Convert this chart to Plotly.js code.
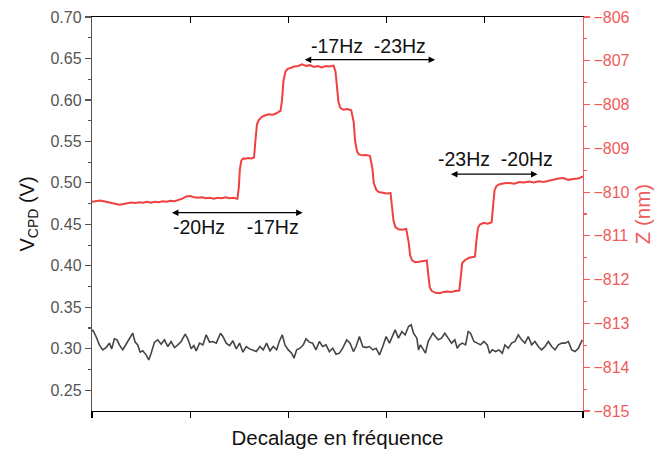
<!DOCTYPE html>
<html>
<head>
<meta charset="utf-8">
<script src="https://cdn.plot.ly/plotly-3.0.1.min.js"></script>
<style>html,body{margin:0;padding:0;background:#fff;}#chart{width:654px;height:451px;}</style>
</head>
<body>
<div id="chart"></div>
<script>
// V_CPD (left axis) trace
const vcpdX = [0,0.7,4.1,7.5,10.9,14.3,17.7,20.1,22.8,25.5,27.9,31.3,34.7,38.1,41.5,43.9,46.6,49.0,51.7,55.1,57.8,60.2,63.6,67.0,70.4,73.8,77.2,80.6,84.0,87.4,90.8,94.9,97.6,101.0,103.7,106.1,109.5,112.9,116.3,119.7,123.1,126.5,130.9,133.3,136.7,140.1,143.5,146.9,150.3,153.7,157.1,160.5,163.9,167.3,
  171.0,174.4,177.8,181.2,184.6,188.0,190.7,193.8,196.5,199.9,203.3,205.7,208.4,211.8,215.2,217.9,221.3,224.7,228.1,231.5,234.9,238.3,241.7,245.1,248.5,251.9,255.3,259.4,262.8,266.2,268.9,272.3,275.7,279.1,282.5,285.9,289.3,292.7,296.1,299.5,302.9,306.3,308.7,312.1,315.5,318.9,322.3,325.0,327.4,330.8,332.5,
  334.5,336.9,339.6,342.3,344.7,347.1,349.8,352.5,355.9,359.3,362.7,366.1,369.5,371.9,374.3,377.0,380.4,383.1,385.5,388.9,392.3,395.7,399.1,402.5,404.9,407.6,411.0,414.4,417.8,420.5,423.9,427.3,430.7,434.1,437.5,440.9,444.3,447.7,451.1,454.5,457.9,461.3,464.7,468.1,471.5,474.9,478.3,481.7,485.1,488.5,491.9,495.3,497.7,499.4];
const vcpdY = [0.3208,0.3228,0.3148,0.3047,0.2987,0.3015,0.3068,0.2999,0.3120,0.3108,0.3047,0.2987,0.3055,0.3128,0.3188,0.3080,0.3047,0.2959,0.2975,0.2927,0.2866,0.2947,0.3080,0.3108,0.3055,0.3108,0.3027,0.3088,0.3015,0.3047,0.3088,0.3176,0.3120,0.2999,0.3039,0.2975,0.3068,0.3047,0.3168,0.3080,0.3088,0.3068,0.3188,0.3148,0.3068,0.3039,0.3096,0.2999,0.3068,0.2959,0.3027,0.2999,0.2987,0.2967,
  0.3027,0.2987,0.3068,0.2975,0.3027,0.2987,0.3088,0.3168,0.3047,0.2987,0.2947,0.2887,0.2987,0.3007,0.3047,0.3120,0.3080,0.3068,0.2987,0.3088,0.3027,0.3047,0.2967,0.3007,0.2935,0.2947,0.3007,0.3108,0.3068,0.2967,0.3027,0.3148,0.3027,0.3015,0.3027,0.2987,0.3007,0.2927,0.3027,0.3148,0.3068,0.3168,0.3228,0.3128,0.3208,0.3168,0.3268,0.3289,0.3188,0.3128,0.2987,
  0.3047,0.3007,0.2947,0.3088,0.3148,0.3188,0.3148,0.3108,0.3128,0.3188,0.3128,0.3068,0.3108,0.3007,0.3047,0.3068,0.3047,0.3208,0.3188,0.3088,0.3068,0.3047,0.3088,0.3047,0.2947,0.2987,0.2967,0.2987,0.2947,0.3047,0.3007,0.3068,0.3088,0.3168,0.3108,0.3068,0.3148,0.3047,0.3088,0.3027,0.2987,0.3027,0.3088,0.3027,0.2987,0.3047,0.3068,0.3068,0.3088,0.2987,0.2967,0.3007,0.3068,0.3108];

// Z (right axis) trace
const zX = [0,4,8,12,16,20,24,28,32,36,40,44,48,52,56,60,64,68,72,76,80,84,88,92,
  96,100,104,108,112,116,120,124,128,132,136,140,144,148,
  149.5,150.5,152,154,156,159,162,165,
  166.5,168,170,173,176,180,184,188,192,
  193.5,195,197,199,202,206,210,214,218,222,226,230,234,238,242,246,
  248,249.5,251,253,256,260,264,
  266.5,268,270,272,275,279,283,
  285.5,287,289.5,292,296,300,304,
  305.5,307,309,312,316,320,
  322.5,324,326,329,333,337,341,
  342.5,344,346,350,354,358,362,366,370,374,
  375.5,377,380,384,388,390,
  391.5,393,395,399,403,407,
  408.5,410,412,415,420,425,430,435,440,445,450,455,460,465,470,475,480,485,490,495,500];
const zY = [-810.22,-810.20,-810.19,-810.21,-810.23,-810.25,-810.27,-810.29,-810.27,-810.26,-810.24,-810.25,-810.23,-810.24,-810.22,-810.24,-810.22,-810.23,-810.21,-810.22,-810.20,-810.21,-810.18,-810.15,
  -810.10,-810.09,-810.12,-810.13,-810.12,-810.14,-810.13,-810.15,-810.13,-810.14,-810.12,-810.14,-810.13,-810.15,
  -809.90,-809.50,-809.28,-809.23,-809.24,-809.22,-809.23,-809.21,
  -808.80,-808.45,-808.35,-808.28,-808.25,-808.22,-808.23,-808.20,-808.14,
  -807.90,-807.45,-807.25,-807.19,-807.16,-807.13,-807.12,-807.08,-807.12,-807.10,-807.14,-807.12,-807.15,-807.12,-807.13,-807.11,
  -807.25,-807.65,-807.95,-808.08,-808.12,-808.10,-808.13,
  -808.40,-808.85,-809.08,-809.14,-809.16,-809.15,-809.17,
  -809.45,-809.80,-809.95,-810.00,-810.01,-810.03,-810.02,
  -810.30,-810.65,-810.80,-810.85,-810.86,-810.84,
  -811.15,-811.45,-811.56,-811.60,-811.59,-811.57,-811.56,
  -811.90,-812.18,-812.26,-812.30,-812.31,-812.28,-812.27,-812.28,-812.26,-812.25,
  -811.95,-811.62,-811.55,-811.50,-811.48,-811.47,
  -811.10,-810.82,-810.74,-810.70,-810.72,-810.69,
  -810.30,-809.95,-809.86,-809.82,-809.80,-809.79,-809.81,-809.77,-809.78,-809.76,-809.78,-809.75,-809.77,-809.74,-809.72,-809.69,-809.68,-809.72,-809.70,-809.69,-809.64];

const leftTicks = [0.25,0.30,0.35,0.40,0.45,0.50,0.55,0.60,0.65,0.70];
const leftTickText = ['0.25','0.30','0.35','0.40','0.45','0.50','0.55','0.60','0.65','0.70'];
const rightTicks = [-815,-814,-813,-812,-811,-810,-809,-808,-807,-806];
const annotTexts = ['-17Hz  -23Hz','-20Hz    -17Hz','-23Hz  -20Hz'];

const FONT = 'Liberation Sans, Arial, sans-serif';
const RED = '#f04040';
const AXRED = '#f05a5a';

const traces = [
  {x: vcpdX, y: vcpdY, type:'scatter', mode:'lines', line:{color:'#454545', width:1.6}, xaxis:'x', yaxis:'y', hoverinfo:'skip'},
  {x: zX, y: zY, type:'scatter', mode:'lines', line:{color:RED, width:2}, xaxis:'x', yaxis:'y2', hoverinfo:'skip'},
  {x: [], y: [], type:'scatter', mode:'lines', xaxis:'x2', yaxis:'y', hoverinfo:'skip', showlegend:false}
];

const arrowCommon = {xref:'x', yref:'y', axref:'x', ayref:'y', text:'', showarrow:true,
  arrowhead:2, startarrowhead:2, arrowside:'end+start', arrowsize:1, startarrowsize:1, arrowwidth:1.3, arrowcolor:'#000', standoff:0, startstandoff:0};
const textCommon = {xref:'x', yref:'y', showarrow:false, font:{family:FONT, size:19.5, color:'#111'}};

const layout = {
  width:654, height:451,
  margin:{l:92, r:71, t:17, b:40},
  paper_bgcolor:'#fff', plot_bgcolor:'#fff',
  showlegend:false,
  font:{family:FONT},
  xaxis:{range:[0,500], dtick:100, tick0:0, showticklabels:false, ticks:'outside', ticklen:6, tickwidth:1.2, tickcolor:'#000',
    showline:true, linecolor:'#000', linewidth:1.2, showgrid:false, zeroline:false,
    title:{text:'Decalage en fréquence', font:{family:FONT, size:20.5, color:'#111'}, standoff:13}, automargin:false},
  xaxis2:{range:[0,500], dtick:100, tick0:0, overlaying:'x', side:'top', anchor:'y', showticklabels:false, ticks:'inside', ticklen:6, tickwidth:1.2, tickcolor:'#000',
    showline:true, linecolor:'#000', linewidth:1.2, showgrid:false, zeroline:false},
  yaxis:{range:[0.225,0.70], tickvals:leftTicks, ticktext:leftTickText, ticks:'outside', ticklen:6, tickwidth:1.2, tickcolor:'#555',
    minor:{tickvals:[0.25,0.275,0.3,0.325,0.35,0.375,0.4,0.425,0.45,0.475,0.5,0.525,0.55,0.575,0.6,0.625,0.65,0.675], ticks:'outside', ticklen:3, tickcolor:'#555', showgrid:false},
    tickfont:{family:FONT, size:16, color:'#555'}, showline:true, linecolor:'#555', linewidth:1.2, showgrid:false, zeroline:false,
    title:{text:'V<sub>CPD</sub> (V)', font:{family:FONT, size:20, color:'#111'}, standoff:10}, automargin:false},
  yaxis2:{range:[-815,-806], tickvals:rightTicks, overlaying:'y', side:'right', anchor:'x', ticks:'outside', ticklen:6, tickwidth:1.2, tickcolor:AXRED,
    minor:{dtick:0.5, ticks:'outside', ticklen:3, tickcolor:AXRED, showgrid:false},
    tickfont:{family:FONT, size:16, color:AXRED}, showline:true, linecolor:AXRED, linewidth:1.2, showgrid:false, zeroline:false,
    title:{text:'Z (nm)', font:{family:FONT, size:20.5, color:AXRED}, standoff:10}, automargin:false},
  annotations:[
    Object.assign({}, arrowCommon, {x:349.4, y:0.6485, ax:215.1, ay:0.6485}),
    Object.assign({}, arrowCommon, {x:214.5, y:0.4641, ax:79.9, ay:0.4641}),
    Object.assign({}, arrowCommon, {x:453.7, y:0.5105, ax:364.0, ay:0.5105}),
    Object.assign({}, textCommon, {x:281.4, y:0.6645, text:annotTexts[0]}),
    Object.assign({}, textCommon, {x:146.5, y:0.4465, text:annotTexts[1]}),
    Object.assign({}, textCommon, {x:410.6, y:0.5286, text:annotTexts[2]})
  ]
};

Plotly.newPlot('chart', traces, layout, {staticPlot:true, displayModeBar:false});
</script>
</body>
</html>
